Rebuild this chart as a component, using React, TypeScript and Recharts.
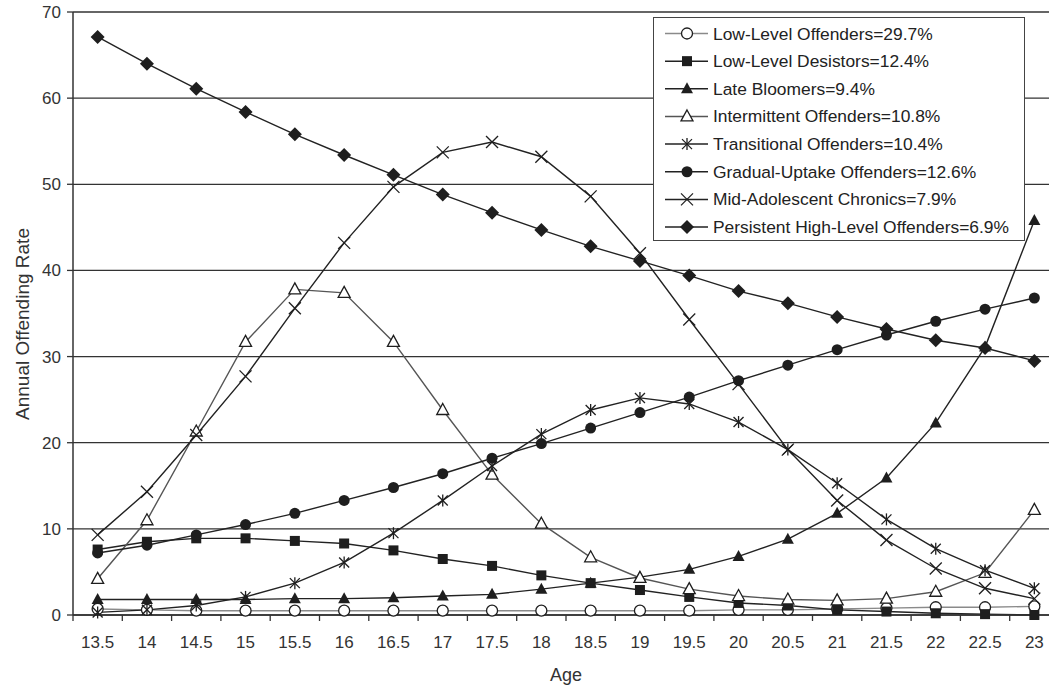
import React from "react";
import { LineChart, Line, XAxis, YAxis, CartesianGrid, Legend, Label } from "recharts";

const ages = ["13.5", "14", "14.5", "15", "15.5", "16", "16.5", "17", "17.5", "18", "18.5", "19", "19.5", "20", "20.5", "21", "21.5", "22", "22.5", "23"];
const yTicks = [0, 10, 20, 30, 40, 50, 60, 70];

const lowLevelOffenders = [0.7, 0.6, 0.5, 0.5, 0.5, 0.5, 0.5, 0.5, 0.5, 0.5, 0.5, 0.5, 0.5, 0.6, 0.6, 0.7, 0.8, 0.9, 0.9, 1.0];
const lowLevelDesistors = [7.6, 8.5, 8.9, 8.9, 8.6, 8.3, 7.5, 6.5, 5.7, 4.6, 3.7, 2.9, 2.1, 1.4, 1.1, 0.6, 0.4, 0.2, 0.1, 0.0];
const lateBloomers = [1.8, 1.8, 1.8, 1.8, 1.9, 1.9, 2.0, 2.2, 2.4, 3.0, 3.7, 4.4, 5.3, 6.8, 8.8, 11.8, 15.9, 22.3, 31.1, 45.8];
const intermittent = [4.2, 11.0, 21.3, 31.7, 37.8, 37.4, 31.7, 23.8, 16.3, 10.6, 6.7, 4.3, 3.0, 2.2, 1.8, 1.7, 1.9, 2.7, 4.9, 12.2];
const transitional = [0.3, 0.6, 1.1, 2.1, 3.7, 6.1, 9.5, 13.3, 17.3, 21.0, 23.8, 25.2, 24.5, 22.4, 19.2, 15.3, 11.1, 7.7, 5.2, 3.1];
const gradualUptake = [7.2, 8.1, 9.3, 10.5, 11.8, 13.3, 14.8, 16.4, 18.2, 19.9, 21.7, 23.5, 25.3, 27.2, 29.0, 30.8, 32.5, 34.1, 35.5, 36.8];
const midAdolescent = [9.3, 14.3, 20.9, 27.7, 35.6, 43.2, 49.7, 53.7, 54.9, 53.2, 48.6, 42.0, 34.3, 26.8, 19.2, 13.3, 8.7, 5.4, 3.1, 1.9];
const persistent = [67.1, 64.0, 61.1, 58.4, 55.8, 53.4, 51.1, 48.8, 46.7, 44.7, 42.8, 41.1, 39.4, 37.6, 36.2, 34.6, 33.2, 31.9, 31.0, 29.5];

const series = [
  { key: "llo", name: "Low-Level Offenders=29.7%", values: lowLevelOffenders, marker: "openCircle", stroke: "#8a8a8a" },
  { key: "lld", name: "Low-Level Desistors=12.4%", values: lowLevelDesistors, marker: "square", stroke: "#222" },
  { key: "lb", name: "Late Bloomers=9.4%", values: lateBloomers, marker: "triangle", stroke: "#222" },
  { key: "io", name: "Intermittent Offenders=10.8%", values: intermittent, marker: "openTriangle", stroke: "#555" },
  { key: "to", name: "Transitional Offenders=10.4%", values: transitional, marker: "asterisk", stroke: "#222" },
  { key: "gu", name: "Gradual-Uptake Offenders=12.6%", values: gradualUptake, marker: "dot", stroke: "#222" },
  { key: "mac", name: "Mid-Adolescent Chronics=7.9%", values: midAdolescent, marker: "cross", stroke: "#222" },
  { key: "phl", name: "Persistent High-Level Offenders=6.9%", values: persistent, marker: "diamond", stroke: "#222" },
];

const data = ages.map((age, i) => {
  const row: Record<string, number | string> = { age };
  series.forEach((s) => (row[s.key] = s.values[i]));
  return row;
});

const FONT = '"Liberation Sans", Arial, sans-serif';
const INK = "#1e1e1e";
const BAND = 49.3;

function Marker({ kind, cx, cy }: { kind: string; cx: number; cy: number }) {
  switch (kind) {
    case "openCircle":
      return <circle cx={cx} cy={cy} r={5.5} fill="#fff" stroke={INK} strokeWidth={1.3} />;
    case "square":
      return <rect x={cx - 5} y={cy - 5} width={10} height={10} fill={INK} />;
    case "triangle":
      return <polygon points={`${cx},${cy - 6.5} ${cx + 6},${cy + 4.5} ${cx - 6},${cy + 4.5}`} fill={INK} />;
    case "openTriangle":
      return <polygon points={`${cx},${cy - 6.5} ${cx + 6},${cy + 4.5} ${cx - 6},${cy + 4.5}`} fill="#fff" stroke={INK} strokeWidth={1.3} />;
    case "asterisk":
      return (
        <g stroke={INK} strokeWidth={1.3}>
          <line x1={cx - 5} y1={cy - 5} x2={cx + 5} y2={cy + 5} />
          <line x1={cx - 5} y1={cy + 5} x2={cx + 5} y2={cy - 5} />
          <line x1={cx} y1={cy - 6} x2={cx} y2={cy + 6} />
        </g>
      );
    case "dot":
      return <circle cx={cx} cy={cy} r={5.5} fill={INK} />;
    case "cross":
      return (
        <g stroke={INK} strokeWidth={1.3}>
          <line x1={cx - 6} y1={cy - 6} x2={cx + 6} y2={cy + 6} />
          <line x1={cx - 6} y1={cy + 6} x2={cx + 6} y2={cy - 6} />
        </g>
      );
    default:
      return <polygon points={`${cx},${cy - 7} ${cx + 7},${cy} ${cx},${cy + 7} ${cx - 7},${cy}`} fill={INK} />;
  }
}

const AgeTick = ({ x, y, payload }: any) => (
  <g>
    <line x1={x - BAND / 2} y1={y} x2={x - BAND / 2} y2={y + 6} stroke="#333" strokeWidth={1.3} />
    <text x={x} y={y + 33} textAnchor="middle" fontSize={17} fill="#333" fontFamily={FONT}>
      {payload.value}
    </text>
  </g>
);

// y-axis title, placed by hand to the left of the tick labels
const YTitle = () => (
  <text transform="translate(29,324) rotate(-90)" textAnchor="middle" fontSize={19} fill="#333" fontFamily={FONT}>
    Annual Offending Rate
  </text>
);

const renderLegend = () => (
  <div style={{ width: 372, height: 224, border: "1.5px solid #444", background: "#fff", boxSizing: "border-box" }}>
    <svg width={369} height={221}>
      {series.map((s, i) => {
        const cy = 15.5 + i * 27.65;
        return (
          <g key={s.key}>
            <line x1={11} y1={cy} x2={54} y2={cy} stroke={s.stroke} strokeWidth={1.5} />
            <Marker kind={s.marker} cx={33} cy={cy} />
            <text x={59} y={cy + 6} fontSize={17.4} fill="#222" fontFamily={FONT}>
              {s.name}
            </text>
          </g>
        );
      })}
    </svg>
  </div>
);

export default function App() {
  return (
    <div style={{ position: "absolute", left: 0, top: 0, width: 1049, height: 690, overflow: "hidden", background: "#fff", fontFamily: FONT }}>
      <LineChart width={1060} height={690} data={data} margin={{ top: 12, right: 1, left: 0, bottom: 0 }}>
        <CartesianGrid vertical={false} stroke="#333" strokeWidth={1.3} />
        <XAxis
          dataKey="age"
          height={75}
          padding={{ left: BAND / 2, right: BAND / 2 }}
          axisLine={{ stroke: "#333", strokeWidth: 1.5 }}
          tickLine={false}
          tickSize={0}
          tickMargin={0}
          interval={0}
          tick={<AgeTick />}
        >
          <Label value="Age" position="insideBottom" offset={9} fontSize={18} fill="#333" fontFamily={FONT} />
        </XAxis>
        <YAxis
          width={73}
          domain={[0, 70]}
          ticks={yTicks}
          interval={0}
          axisLine={{ stroke: "#333", strokeWidth: 1.5 }}
          tickLine={{ stroke: "#333", strokeWidth: 1.3 }}
          tickSize={6}
          tickMargin={6}
          tick={{ fontSize: 17, fill: "#333", fontFamily: FONT }}
        >
          <Label content={<YTitle />} />
        </YAxis>
        <Legend
          layout="vertical"
          align="center"
          verticalAlign="middle"
          content={renderLegend}
          wrapperStyle={{ left: 653, top: 17, width: 372, height: 224 }}
        />
        {series.map((s) => (
          <Line
            key={s.key}
            dataKey={s.key}
            name={s.name}
            type="linear"
            stroke={s.stroke}
            strokeWidth={1.4}
            isAnimationActive={false}
            activeDot={false}
            dot={(p: any) => <Marker key={`${s.key}-${p.index}`} kind={s.marker} cx={p.cx} cy={p.cy} />}
          />
        ))}
      </LineChart>
    </div>
  );
}
